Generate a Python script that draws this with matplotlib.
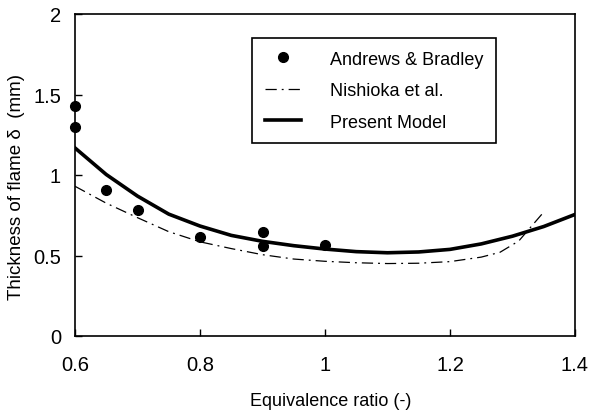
import matplotlib
matplotlib.use("Agg")
import matplotlib.pyplot as plt

plt.rcParams['font.family'] = ['Liberation Sans', 'DejaVu Sans']

exp_x = [0.6, 0.6, 0.65, 0.7, 0.8, 0.9, 0.9, 1.0]
exp_y = [1.43, 1.30, 0.905, 0.78, 0.617, 0.648, 0.557, 0.566]

nish_x = [0.6, 0.65, 0.7, 0.75, 0.8, 0.85, 0.9, 0.95, 1.0, 1.05, 1.1, 1.15, 1.2, 1.25, 1.28, 1.31, 1.33, 1.35]
nish_y = [0.93, 0.825, 0.735, 0.648, 0.585, 0.543, 0.505, 0.478, 0.464, 0.455, 0.45, 0.452, 0.462, 0.49, 0.52, 0.59, 0.68, 0.77]

model_x = [0.6, 0.65, 0.7, 0.75, 0.8, 0.85, 0.9, 0.95, 1.0, 1.05, 1.1, 1.15, 1.2, 1.25, 1.3, 1.35, 1.4]
model_y = [1.168, 1.003, 0.869, 0.757, 0.683, 0.625, 0.588, 0.561, 0.54, 0.524, 0.517, 0.522, 0.538, 0.572, 0.62, 0.68, 0.755]

fig = plt.figure(figsize=(5.92, 4.14), dpi=100)
ax = fig.add_axes([75/592, 1-337/414, 500/592, 322/414])

ax.plot(model_x, model_y, color='black', lw=2.6, label='Present Model', zorder=3)
ax.plot(nish_x, nish_y, color='black', lw=0.9, dashes=(9, 4, 1.5, 4), label='Nishioka et al.', zorder=2)
ax.plot(exp_x, exp_y, 'o', color='black', ms=7, label='Andrews & Bradley', zorder=4, clip_on=False)

ax.set_xlim(0.6, 1.4)
ax.set_ylim(0, 2)
ax.set_xticks([0.6, 0.8, 1.0, 1.2, 1.4])
ax.set_xticklabels(['0.6', '0.8', '1', '1.2', '1.4'])
ax.set_yticks([0, 0.5, 1, 1.5, 2])
ax.set_yticklabels(['0', '0.5', '1', '1.5', '2'])
ax.tick_params(direction='in', length=5, width=1, labelsize=14.5)
ax.tick_params(axis='x', pad=14)
ax.tick_params(axis='y', pad=10)
for s in ax.spines.values():
    s.set_linewidth(1.2)

ax.set_xlabel('Equivalence ratio (-)', fontsize=13, va='center')
ax.xaxis.set_label_coords((330.5 - 75) / 500, (337 - 402) / 322)
ax.set_ylabel('Thickness of flame δ  (mm)', fontsize=13.5, va='center')
ax.yaxis.set_label_coords((17 - 75) / 500, (337 - 187.5) / 322)

h, l = ax.get_legend_handles_labels()
order = [2, 1, 0]
leg = ax.legend([h[i] for i in order], [l[i] for i in order], loc='upper left',
                bbox_to_anchor=((252-75)/500, (337-39)/322), borderaxespad=0,
                fontsize=13, frameon=True, fancybox=False, edgecolor='black',
                framealpha=1, handlelength=2.0, handletextpad=1.6,
                borderpad=0.7, labelspacing=0.8)
leg.get_frame().set_linewidth(1.2)

fig.savefig('out.png', dpi=100)
